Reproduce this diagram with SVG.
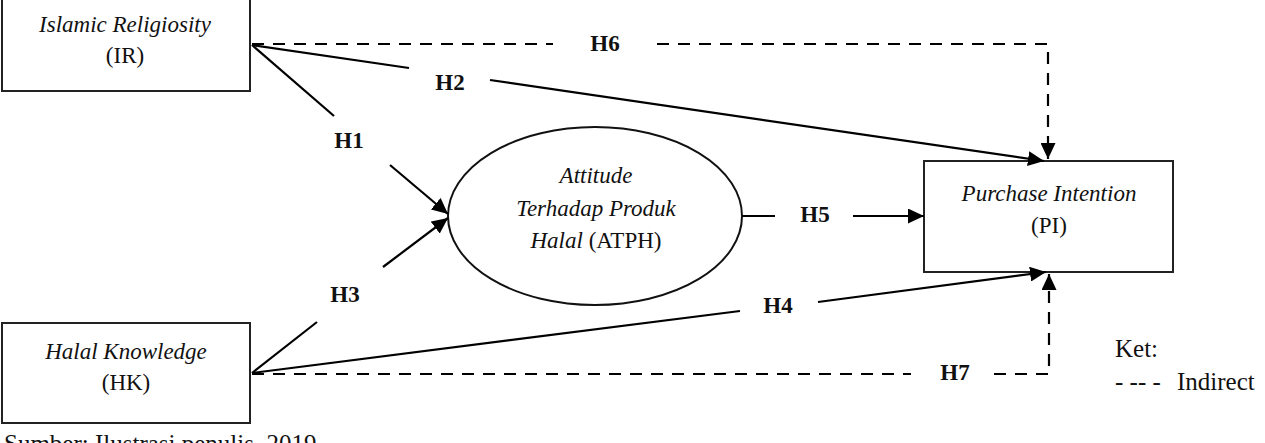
<svg xmlns="http://www.w3.org/2000/svg" width="1265" height="443" viewBox="0 0 1265 443">
<style>
  .box{fill:#fff;stroke:#222;stroke-width:2}
  .t{font-family:"Liberation Serif","Times New Roman",serif;font-size:23px;fill:#111;text-anchor:middle}
  .i{font-style:italic}
  .h{font-family:"Liberation Serif","Times New Roman",serif;font-size:23px;font-weight:bold;fill:#111;text-anchor:middle}
  .ln{fill:none;stroke:#000;stroke-width:2.2}
  .ds{fill:none;stroke:#000;stroke-width:2.2;stroke-dasharray:12 9}
  .note{font-family:"Liberation Serif","Times New Roman",serif;font-size:25px;fill:#111}
</style>
<defs>
  <marker id="arr" markerUnits="userSpaceOnUse" markerWidth="17" markerHeight="15" refX="16" refY="7.5" orient="auto">
    <path d="M0,0 L16,7.5 L0,15 z" fill="#000"/>
  </marker>
</defs>
<rect width="1265" height="443" fill="#fff"/>

<g id="IR">
  <rect class="box" x="2" y="-10" width="248" height="101"/>
  <text class="t i" x="125" y="32">Islamic Religiosity</text>
  <text class="t" x="125" y="63">(IR)</text>
</g>
<g id="HK">
  <rect class="box" x="2" y="323" width="248" height="100"/>
  <text class="t i" x="126" y="359">Halal Knowledge</text>
  <text class="t" x="126" y="390">(HK)</text>
</g>
<g id="ATPH">
  <ellipse cx="595" cy="216" rx="147" ry="89" fill="#fff" stroke="#111" stroke-width="2"/>
  <text class="t i" x="596" y="183">Attitude</text>
  <text class="t i" x="596" y="216">Terhadap Produk</text>
  <text class="t" x="596" y="248"><tspan font-style="italic">Halal</tspan> (ATPH)</text>
</g>
<g id="PI">
  <rect class="box" x="924" y="161" width="249" height="111"/>
  <text class="t i" x="1049" y="201">Purchase Intention</text>
  <text class="t" x="1049" y="233">(PI)</text>
</g>

<g id="connectors">
  <path class="ds" d="M252,44 H553"/>
  <path class="ds" d="M657,44 H1048 V159" marker-end="url(#arr)"/>
  <path class="ln" d="M252,45 L409,68"/>
  <path class="ln" d="M490,80 L1044,161" marker-end="url(#arr)"/>
  <path class="ln" d="M252,45 L334,116"/>
  <path class="ln" d="M390,165 L448,214" marker-end="url(#arr)"/>
  <path class="ln" d="M252,373 L317,322"/>
  <path class="ln" d="M383,267 L448,218" marker-end="url(#arr)"/>
  <path class="ln" d="M252,373 L740,311"/>
  <path class="ln" d="M818,302 L1046,272" marker-end="url(#arr)"/>
  <path class="ln" d="M742,216 H775"/>
  <path class="ln" d="M853,216 H924" marker-end="url(#arr)"/>
  <path class="ds" d="M252,374 H911"/>
  <path class="ds" d="M994,374 H1049 V274" marker-end="url(#arr)"/>
</g>

<g id="labels">
  <text class="h" x="605" y="51">H6</text>
  <text class="h" x="450" y="90">H2</text>
  <text class="h" x="349" y="148">H1</text>
  <text class="h" x="815" y="222">H5</text>
  <text class="h" x="345" y="302">H3</text>
  <text class="h" x="778" y="313">H4</text>
  <text class="h" x="955" y="380">H7</text>
</g>

<g id="legend">
  <text class="note" x="1115" y="357">Ket:</text>
  <text class="note" x="1115" y="390">- -- -</text>
  <text class="note" x="1177" y="390">Indirect</text>
</g>
<text class="note" x="4" y="452" font-size="29">Sumber: Ilustrasi penulis, 2019</text>
</svg>
